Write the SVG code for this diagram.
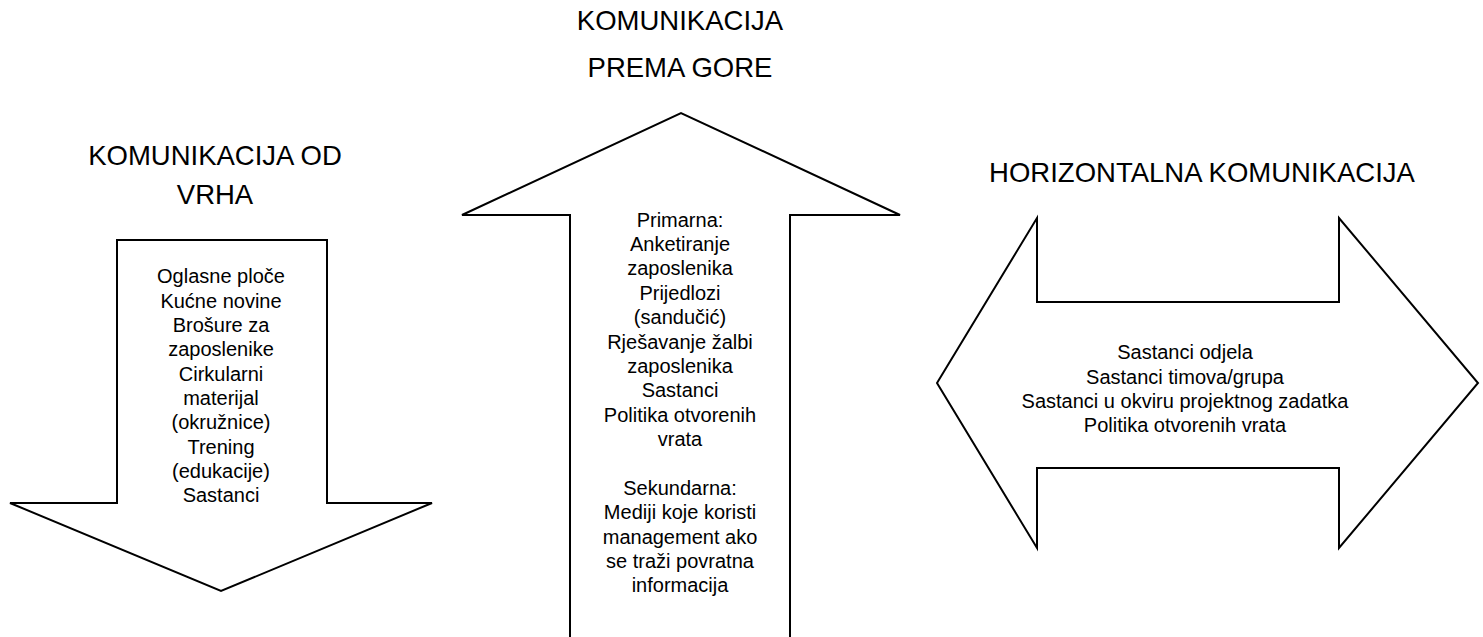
<svg xmlns="http://www.w3.org/2000/svg" width="1483" height="637" viewBox="0 0 1483 637">
<style>
.shape{fill:#fff;stroke:#000;stroke-width:2;stroke-linejoin:miter}
.title{font-family:"Liberation Sans",Arial,sans-serif;font-size:27.5px;fill:#000;text-anchor:middle}
.body{font-family:"Liberation Sans",Arial,sans-serif;font-size:20px;fill:#000;text-anchor:middle}
</style>
<rect width="1483" height="637" fill="#fff"/>
<g id="down-arrow">
<polygon class="shape" points="117,240 327,240 327,503 432,503 221,591 10,503 117,503"/>
<text class="title" x="215" y="165">KOMUNIKACIJA OD</text>
<text class="title" x="215" y="204">VRHA</text>
<text class="body" x="221" y="283">Oglasne ploče</text>
<text class="body" x="221" y="308">Kućne novine</text>
<text class="body" x="221" y="332">Brošure za</text>
<text class="body" x="221" y="356">zaposlenike</text>
<text class="body" x="221" y="381">Cirkularni</text>
<text class="body" x="221" y="405">materijal</text>
<text class="body" x="221" y="429">(okružnice)</text>
<text class="body" x="221" y="454">Trening</text>
<text class="body" x="221" y="478">(edukacije)</text>
<text class="body" x="221" y="502">Sastanci</text>
</g>
<g id="up-arrow">
<polygon class="shape" points="570,640 570,215 462,215 681,113 900,215 790,215 790,640"/>
<text class="title" x="680" y="30">KOMUNIKACIJA</text>
<text class="title" x="680" y="77">PREMA GORE</text>
<text class="body" x="680" y="227">Primarna:</text>
<text class="body" x="680" y="251">Anketiranje</text>
<text class="body" x="680" y="275">zaposlenika</text>
<text class="body" x="680" y="300">Prijedlozi</text>
<text class="body" x="680" y="324">(sandučić)</text>
<text class="body" x="680" y="349">Rješavanje žalbi</text>
<text class="body" x="680" y="373">zaposlenika</text>
<text class="body" x="680" y="397">Sastanci</text>
<text class="body" x="680" y="422">Politika otvorenih</text>
<text class="body" x="680" y="446">vrata</text>
<text class="body" x="680" y="495">Sekundarna:</text>
<text class="body" x="680" y="519">Mediji koje koristi</text>
<text class="body" x="680" y="544">management ako</text>
<text class="body" x="680" y="568">se traži povratna</text>
<text class="body" x="680" y="592">informacija</text>
</g>
<g id="horizontal-arrow">
<polygon class="shape" points="937,383 1037,218 1037,302 1339,302 1339,218 1478,383 1339,548 1339,468 1037,468 1037,548"/>
<text class="title" x="1202" y="182">HORIZONTALNA KOMUNIKACIJA</text>
<text class="body" x="1185" y="359">Sastanci odjela</text>
<text class="body" x="1185" y="384">Sastanci timova/grupa</text>
<text class="body" x="1185" y="408">Sastanci u okviru projektnog zadatka</text>
<text class="body" x="1185" y="432">Politika otvorenih vrata</text>
</g>
<g id="connectors"></g>
</svg>
